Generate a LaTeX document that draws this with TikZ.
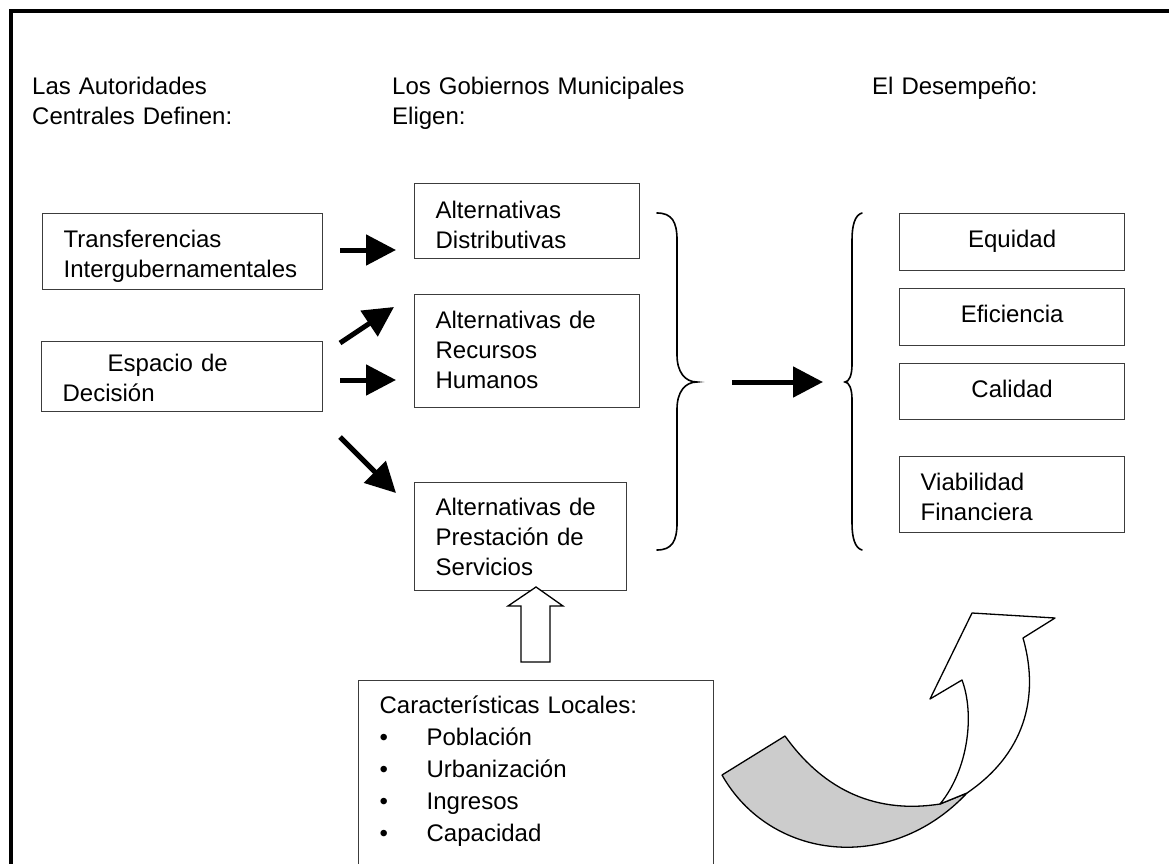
\documentclass[tikz,border=0pt]{standalone}
\usepackage{fontspec}
\setmainfont{Liberation Sans}
\usetikzlibrary{arrows.meta}
\definecolor{boxline}{HTML}{3C3C3C}
\definecolor{ribbon}{HTML}{CCCCCC}
\newcommand{\itembul}{\makebox[47pt][l]{\textbullet}}

\begin{document}
\begin{tikzpicture}[x=1pt,y=-1pt,
		txt/.style={font=\fontsize{24}{30}\selectfont, inner sep=0, align=left},
		heading/.style={txt, anchor=base west, text width=320pt},
		box/.style={txt, draw=boxline, line width=1.3pt, anchor=north west, inner xsep=21pt, inner ysep=0pt, text height=34pt},
		fatarrow/.style={line width=5pt, -{Triangle[length=30pt,width=30pt]}},
		brace/.style={line width=1.6pt, line cap=round}]
		\useasboundingbox (0,0) rectangle (1169,864);
		\clip (0,0) rectangle (1169,864);
		% frame
		\draw [line width=4pt] (11,880) -- (11,11) -- (1180,11);
		% headings
		\node [heading] (central) at (32,95) {Las Autoridades\\Centrales Definen:};
		\node [heading] (municipal) at (392,95) {Los Gobiernos Municipales\\Eligen:};
		\node [heading] (desempeno) at (872,95) {El Desempeño:};
		% left column
		\node [box, text width=238pt, text depth=42pt] (transf) at (42,213) {Transferencias\\Intergubernamentales};
		\node [box, text width=239pt, text depth=40pt, text height=30pt] (espacio) at (41,341) {\hspace*{45pt}Espacio de\\Decisión};
		% middle column
		\node [box, text width=183pt, text depth=40pt, text height=35pt] (distrib) at (414,183) {Alternativas\\Distributivas};
		\node [box, text width=183pt, text depth=79pt] (recursos) at (414,294) {Alternativas de\\Recursos\\Humanos};
		\node [box, text width=170pt, text depth=75pt, text height=33pt] (prestacion) at (414,482) {Alternativas de\\Prestación de\\Servicios};
		% right column
		\node [box, text width=183pt, text depth=23pt, align=center] (equidad) at (899,213) {Equidad};
		\node [box, text width=183pt, text depth=23pt, align=center] (eficiencia) at (899,288) {Eficiencia};
		\node [box, text width=183pt, text depth=22pt, align=center] (calidad) at (899,363) {Calidad};
		\node [box, text width=183pt, text depth=42pt] (viabilidad) at (899,456) {Viabilidad\\Financiera};
		% local characteristics
		\node [box, text width=313pt, text depth=200pt, text height=33pt, font=\fontsize{24}{32}\selectfont] (locales) at (358,680)
			{Características Locales:\\\itembul Población\\\itembul Urbanización\\\itembul Ingresos\\\itembul Capacidad};
		% black arrows
		\coordinate (a1) at (340,250);
		\coordinate (b1) at (396,250);
		\coordinate (a2) at (340,343);
		\coordinate (b2) at (394,307);
		\coordinate (a3) at (340,380);
		\coordinate (b3) at (396,380);
		\coordinate (a4) at (340,437);
		\coordinate (b4) at (396,493);
		\coordinate (a5) at (732,382);
		\coordinate (b5) at (823,382);
		\draw [fatarrow] (a1) -- (b1);
		\draw [fatarrow] (a2) -- (b2);
		\draw [fatarrow] (a3) -- (b3);
		\draw [fatarrow] (a4) -- (b4);
		\draw [fatarrow] (a5) -- (b5);
		% braces
		\draw [brace] (657,213) .. controls (672,213) and (677,222) .. (677,240) -- (677,355)
			.. controls (677,372) and (685,382) .. (697,382)
			.. controls (685,382) and (677,392) .. (677,409) -- (677,523)
			.. controls (677,541) and (672,550) .. (657,550);
		\draw [brace] (862,213) .. controls (855,215) and (852,225) .. (852,240) -- (852,365)
			.. controls (852,375) and (849,382) .. (845,382)
			.. controls (849,382) and (852,389) .. (852,399) -- (852,523)
			.. controls (852,538) and (855,548) .. (862,550);
		% hollow arrow
		\draw [line width=1.3pt, fill=white] (536,587) -- (563,606) -- (550,606) -- (550,662) -- (521,662) -- (521,606) -- (508,606) -- cycle;
		% curled arrow
		\draw [line width=1.3pt, line join=round, fill=ribbon] (722,775) -- (785,736) .. controls (820,785) and (870,815) .. (940,804)
			-- (967,793) .. controls (890,875) and (770,860) .. (722,775) -- cycle;
		\draw [line width=1.3pt, line join=round, fill=white] (940,804) .. controls (968,770) and (975,715) .. (962,680)
			-- (930,699) -- (972,613) -- (1055,618) -- (1023,638)
			.. controls (1038,690) and (1030,750) .. (967,793) -- cycle;
	\end{tikzpicture}
\end{document}
